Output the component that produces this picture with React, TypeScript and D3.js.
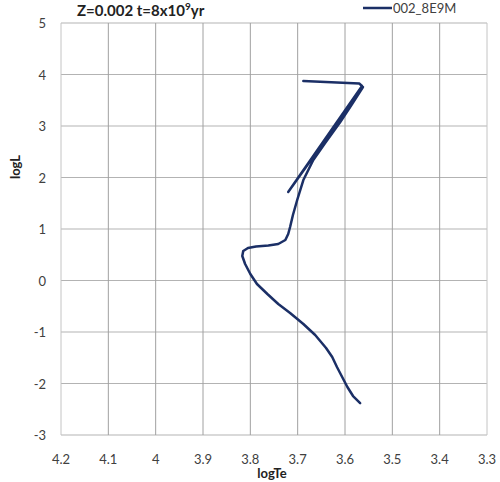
import React from 'react';
import * as d3 from 'd3';

// isochrone track, in drawing order (MS -> RGB tip -> HB -> AGB)
const logTe = [3.568, 3.583, 3.595, 3.606, 3.617, 3.627, 3.640, 3.663, 3.688, 3.716, 3.741, 3.764, 3.786, 3.800, 3.811, 3.817, 3.815, 3.805, 3.788, 3.762, 3.741, 3.726, 3.720, 3.716, 3.710, 3.701, 3.688, 3.667, 3.642, 3.610, 3.585, 3.562,
  3.720, 3.564, 3.570, 3.688];
const logL = [-2.38, -2.243, -2.068, -1.874, -1.68, -1.485, -1.311, -1.058, -0.845, -0.631, -0.456, -0.262, -0.068, 0.126, 0.32, 0.476, 0.573, 0.631, 0.66, 0.68, 0.709, 0.786, 0.903, 1.039, 1.272, 1.563, 1.951, 2.34, 2.67, 3.078, 3.427, 3.757,
  1.718, 3.777, 3.825, 3.874];
const xTicks = [4.2, 4.1, 4.0, 3.9, 3.8, 3.7, 3.6, 3.5, 3.4, 3.3];
const yTicks = [-3, -2, -1, 0, 1, 2, 3, 4, 5];
const seriesName = '002_8E9M';

const font = 'Lato, "Open Sans", sans-serif';

const App = () => {
  const width = 500, height = 482;
  const left = 61, right = 487, top = 23, bottom = 435;
  const x = d3.scaleLinear().domain([4.2, 3.3]).range([left, right]);
  const y = d3.scaleLinear().domain([-3, 5]).range([bottom, top]);
  const pts: [number, number][] = logTe.map((t, i) => [t, logL[i]]);
  const line = d3.line<[number, number]>().x(d => x(d[0])).y(d => y(d[1]));

  return (
    <svg width={width} height={height} style={{ position: 'absolute', left: 0, top: 0, background: '#fff' }}>
      {yTicks.map(t => (
        <line key={'h' + t} x1={left} x2={right} y1={y(t)} y2={y(t)} stroke="#b3b3b3" strokeWidth={1} />
      ))}
      {xTicks.map(t => (
        <line key={'v' + t} x1={x(t)} x2={x(t)} y1={top} y2={bottom} stroke={t === 4.2 || t === 3.3 ? '#c4c4c4' : '#a0a0a0'} strokeWidth={1} />
      ))}
      {yTicks.map(t => (
        <text key={'yl' + t} x={46} y={y(t) + 5} textAnchor="end" style={{ fontSize: '13px', fill: '#404040', fontFamily: font }}>{t}</text>
      ))}
      {xTicks.map(t => (
        <text key={'xl' + t} x={x(t)} y={464} textAnchor="middle" style={{ fontSize: '13px', fill: '#404040', fontFamily: font }}>{String(t)}</text>
      ))}
      <text x={(left + right) / 2 - 2} y={478} textAnchor="middle" style={{ fontSize: '13px', fontWeight: 'bold', fill: '#222', fontFamily: font }}>logTe</text>
      <text transform="translate(20,167) rotate(-90)" textAnchor="middle" style={{ fontSize: '13px', fontWeight: 'bold', fill: '#222', fontFamily: font }}>logL</text>
      <text x={77} y={16} style={{ fontSize: '15px', fontWeight: 'bold', fill: '#222', fontFamily: font }}>
        Z=0.002 t=8x10<tspan dy={-6} style={{ fontSize: '10px' }}>9</tspan><tspan dy={6}>yr</tspan>
      </text>
      <line x1={363} x2={392} y1={8} y2={8} stroke="#1b2f66" strokeWidth={2.5} />
      <text x={393} y={13} style={{ fontSize: '13px', fill: '#404040', fontFamily: font }}>{seriesName}</text>
      <path d={line(pts) || ''} fill="none" stroke="#1b2f66" strokeWidth={2.5} strokeLinejoin="round" strokeLinecap="round" />
    </svg>
  );
};

export default App;
